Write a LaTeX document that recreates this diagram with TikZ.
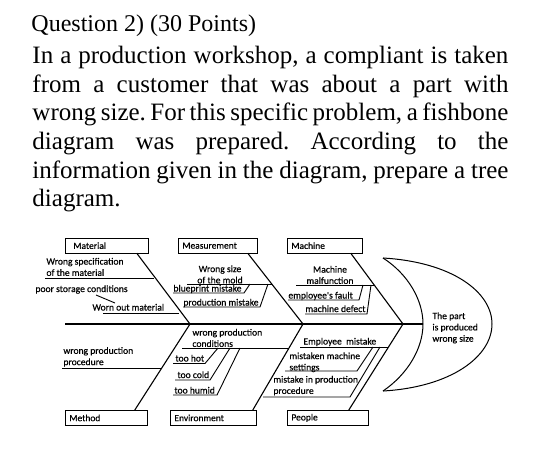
\documentclass[tikz,border=0pt]{standalone}
\usepackage{fontspec}
\setmainfont{Liberation Serif}
\newfontfamily\calib[FakeBold=0.5]{Carlito}
\frenchspacing
\begin{document}
\begin{tikzpicture}[x=1pt, y=-1pt, line width=0.9pt,
  cat/.style = {draw, line width=0.8pt, anchor=north west, minimum height=14.5pt, inner xsep=4pt, inner ysep=0pt, text width=#1, align=left, font=\calib\fontsize{9.5}{10}\selectfont},
  lbl/.style = {inner sep=0pt, align=left, font=\calib\fontsize{9.6}{11.3}\selectfont},
  bone/.style = {line width=1.1pt}]
\useasboundingbox (0,0) rectangle (540,467);

\node[anchor=base west, inner sep=0pt, font=\fontsize{24}{28}\selectfont] (title) at (31,31.5) {Question 2) (30 Points)};
\node[anchor=north west, inner sep=0pt, align=left, font=\fontsize{25}{28.6}\selectfont] (task) at (32,45.9)
  {\makebox[476pt][s]{In a production workshop, a compliant is taken}\\
   \makebox[476pt][s]{from a customer that was about a part with}\\
   \makebox[476pt][s]{wrong size. For this specific problem, a fishbone}\\
   \makebox[476pt][s]{diagram was prepared. According to the}\\
   \makebox[476pt][s]{information given in the diagram, prepare a tree}\\
   diagram.};

\node[cat=67pt, inner xsep=8pt] (mat) at (65,238) {Material};
\node[cat=71pt] (meas) at (178,238) {Measurement};
\node[cat=67pt] (mach) at (287,238) {Machine};
\node[cat=74pt, minimum height=15pt] (meth) at (65,410) {Method};
\node[cat=78pt, minimum height=15pt] (env) at (170,410) {Environment};
\node[cat=73pt, minimum height=15pt] (peop) at (287,410) {People};

\coordinate (tail) at (65,324);
\coordinate (nose) at (423,324);
\coordinate (jA) at (190,324);
\coordinate (jB) at (303,324);
\coordinate (jC) at (403,324);
\coordinate (htop) at (383,258);
\coordinate (hbot) at (383,391);
\coordinate (hfar) at (492,324);

\draw[bone] (tail) -- (nose);
\draw[bone] ([xshift=-12pt]mat.south east) -- (jA);
\draw[bone] ([xshift=-10pt]meas.south east) -- (jB);
\draw[bone] ([xshift=-12pt]mach.south east) -- (jC);
\draw[bone] ([xshift=-13pt]meth.north east) -- (jA);
\draw[bone] ([xshift=-4pt]env.north east) -- (jB);
\draw[bone] ([xshift=-20pt]peop.north east) -- (jC);
\draw[line width=1pt] (htop) .. controls (452,262) and (492,292) .. (hfar) .. controls (492,356) and (452,387) .. (hbot);
\draw[line width=1pt] (htop) .. controls (408,274) and (423,300) .. (nose) .. controls (423,348) and (408,374) .. (hbot);
\node[lbl, anchor=north west] (effect) at (432,312) {The part\\is produced\\wrong size};

\node[lbl, anchor=north west] (spec) at (46,257.5) {Wrong specification\\of the material};
\node[lbl, anchor=base west] (stor) at (35,292) {poor storage conditions};
\node[lbl, anchor=base west] (worn) at (92,310.5) {Worn out material};
\node[lbl, anchor=north west] (proc) at (63,346.7) {wrong production\\procedure};
\node[lbl, anchor=north, align=center] (size) at (220,265) {Wrong size\\of the mold};
\node[lbl, anchor=base west] (blue) at (173,291.5) {blueprint mistake};
\node[lbl, anchor=base west] (prodm) at (183,305.5) {production mistake};
\node[lbl, anchor=north, align=center] (malf) at (330,265.5) {Machine\\malfunction};
\node[lbl, anchor=base west] (fault) at (288,298.5) {employee's fault};
\node[lbl, anchor=base west] (defect) at (305,312) {machine defect};
\node[lbl, anchor=north west] (cond) at (192,328.5) {wrong production\\conditions};
\node[lbl, anchor=base west] (hot) at (175,361.5) {too hot};
\node[lbl, anchor=base west] (cold) at (177,378) {too cold};
\node[lbl, anchor=base west] (humid) at (174,393.5) {too humid};
\node[lbl, anchor=base west] (empl) at (303,344.5) {Employee\ \ mistake};
\node[lbl, anchor=north west] (sett) at (289,352) {mistaken machine\\settings};
\node[lbl, anchor=north west] (mproc) at (273,375.5) {mistake in production\\procedure};

\coordinate (cA1) at (154,278);
\coordinate (cA2) at (179,313);
\coordinate (cA3) at (161,368);
\coordinate (cB1) at (272,284);
\coordinate (cB2) at (289,348);
\coordinate (cC1) at (374,285);
\coordinate (cC2) at (388,347);
\coordinate (uSet) at (357,371);
\coordinate (uProc) at (350,397);

\draw ([xshift=-1pt]spec.west |- cA1) -- (cA1);
\draw ([xshift=-1pt]proc.west |- cA3) -- (cA3);
\draw ([xshift=11pt]worn.west |- cA2) -- (cA2);
\draw ([xshift=61pt,yshift=-3pt]stor.base west) -- ++(19,8);
\draw ([xshift=-10pt]size.west |- cB1) -- (cB1);
\draw ([xshift=-10pt]cond.west |- cB2) -- (cB2);
\draw ([xshift=-10pt]malf.west |- cC1) -- (cC1);
\draw ([xshift=-3pt]empl.west |- cC2) -- (cC2);

\draw ([yshift=-1.5pt]blue.base west) -- ++(71,0) -- (250,0 |- cB1);
\draw ([yshift=-1.5pt]prodm.base west) -- ++(77,0) -- (268,0 |- cB1);
\draw ([yshift=-1.5pt]fault.base west) -- ++(71,0) -- (363,0 |- cC1);
\draw ([yshift=-2pt]defect.base west) -- ++(62,0) -- (371,0 |- cC1);
\draw ([xshift=-2pt,yshift=-2pt]hot.base west) -- ++(32,0) -- (218,0 |- cB2);
\draw ([xshift=-2pt,yshift=-2pt]cold.base west) -- ++(35,0) -- (230,0 |- cB2);
\draw ([xshift=-1pt,yshift=-1.5pt]humid.base west) -- ++(44,0) -- (240,0 |- cB2);
\draw ([xshift=-4pt]sett.west |- uSet) -- (uSet) -- (373,0 |- cC2);
\draw ([xshift=-10pt]mproc.west |- uProc) -- (uProc) -- (380,0 |- cC2);
\end{tikzpicture}
\end{document}
